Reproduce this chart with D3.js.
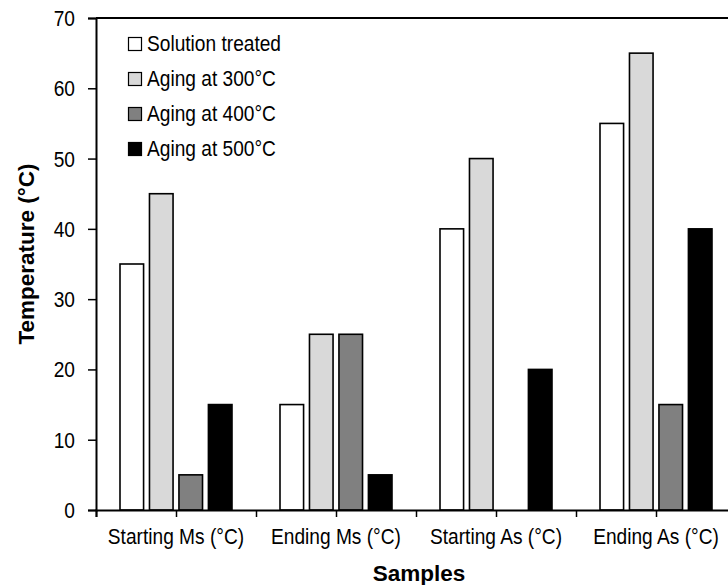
<!DOCTYPE html>
<html><head><meta charset="utf-8">
<script src="https://cdn.jsdelivr.net/npm/d3@7"></script>
<style>body{margin:0;background:#fff}svg{display:block}text{font-family:"Liberation Sans",Arial,sans-serif;fill:#000}</style>
</head><body>
<svg id="c" width="728" height="585"></svg>
<script>
const categories = ["Starting Ms (°C)", "Ending Ms (°C)", "Starting As (°C)", "Ending As (°C)"];
const seriesNames = ["Solution treated", "Aging at 300°C", "Aging at 400°C", "Aging at 500°C"];
const solutionTreated = [35, 15, 40, 55];
const aging300 = [45, 25, 50, 65];
const aging400 = [5, 25, 0, 15];
const aging500 = [15, 5, 20, 40];
const yTicks = [0, 10, 20, 30, 40, 50, 60, 70];
const colors = ["#ffffff", "#d9d9d9", "#808080", "#000000"];

(function () {
const seriesValues = [solutionTreated, aging300, aging400, aging500];
const svg = d3.select("#c");
const mLeft = 96, mRight = 736, mTop = 18, mBottom = 510;

function label(g, x, y, str, size, anchor, bold, rot, sx) {
  return g.append("text")
    .attr("transform", `translate(${x},${y})` + (rot ? ` rotate(${rot})` : "") + ` scale(${sx},1)`)
    .attr("text-anchor", anchor || "start")
    .attr("font-size", size)
    .attr("font-weight", bold ? "bold" : "normal")
    .text(str);
}

const x = d3.scaleBand().domain(categories).range([mLeft, mRight]);
const xi = d3.scaleBand().domain(seriesNames).range([24, 136]).paddingInner(0.2).paddingOuter(0);
const y = d3.scaleLinear().domain([0, 70]).range([mBottom, mTop]);

// bars
seriesNames.forEach((s, si) => {
  svg.append("g").selectAll("rect").data(categories.map((c, ci) => ({c, v: seriesValues[si][ci]})).filter(d => d.v > 0))
    .enter().append("rect")
    .attr("x", d => x(d.c) + xi(s))
    .attr("y", d => y(d.v))
    .attr("width", xi.bandwidth())
    .attr("height", d => y(0) - y(d.v))
    .attr("fill", colors[si]).attr("stroke", "#000").attr("stroke-width", 1.6);
});

// y axis
const ya = svg.append("g").attr("transform", `translate(${mLeft},0)`)
  .call(d3.axisLeft(y).tickValues(yTicks).tickSize(8).tickFormat(""));
ya.select(".domain").attr("stroke-width", 2);
ya.selectAll(".tick line").attr("stroke-width", 1.5);
const ytl = svg.append("g");
yTicks.forEach(t => label(ytl, 75, y(t) + 8, String(t), 22, "end", false, 0, 0.87));

// x axis
const xl = d3.scaleLinear().domain([0, 4]).range([mLeft, mRight]);
const xa = svg.append("g").attr("transform", `translate(0,${mBottom})`)
  .call(d3.axisBottom(xl).tickValues(d3.range(0, 4.01, 0.5)).tickSize(7).tickFormat(""));
xa.select(".domain").attr("stroke-width", 2);
xa.selectAll(".tick line").attr("stroke-width", 1.5);
const xtl = svg.append("g");
categories.forEach(c => label(xtl, x(c) + x.bandwidth() / 2, 544, c, 22, "middle", false, 0, 0.87));

// top border
svg.append("line").attr("x1", mLeft).attr("x2", mRight).attr("y1", mTop).attr("y2", mTop)
  .attr("stroke", "#000").attr("stroke-width", 2);

// axis titles
label(svg, 419, 581, "Samples", 22.5, "middle", true, 0, 1);
label(svg, 34, 254, "Temperature (°C)", 22.5, "middle", true, -90, 1);

// legend
const lg = svg.append("g");
seriesNames.forEach((s, i) => {
  const ly = 37 + i * 35;
  lg.append("rect").attr("x", 128.5).attr("y", ly + 0.5).attr("width", 13).attr("height", 13)
    .attr("fill", colors[i]).attr("stroke", "#000").attr("stroke-width", 1.2);
  label(lg, 147, ly + 14, s, 22, "start", false, 0, 0.87);
});
})();
</script>
</body></html>
